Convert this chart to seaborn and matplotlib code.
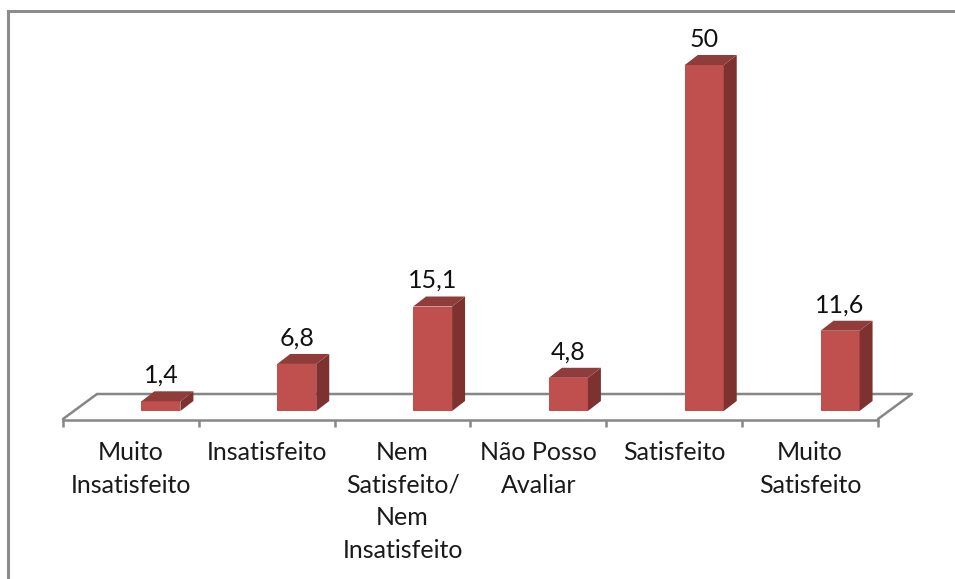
import pandas as pd
import seaborn as sns
import matplotlib.pyplot as plt
from matplotlib.patches import Polygon

categories = ['Muito\nInsatisfeito', 'Insatisfeito', 'Nem\nSatisfeito/\nNem\nInsatisfeito',
              'Não Posso\nAvaliar', 'Satisfeito', 'Muito\nSatisfeito']
values = [1.4, 6.8, 15.1, 4.8, 50, 11.6]
value_labels = ['1,4', '6,8', '15,1', '4,8', '50', '11,6']

W, H = 955, 579
FRONT = '#C0504D'
SIDE = '#7D3230'
TOP = '#8F3C3A'
GRAY = '#868686'

sns.set_theme(style='white')
plt.rcParams['font.family'] = ['Lato', 'DejaVu Sans']


def axes_px(fig, left, top, right, bottom):
    # axes box given in image pixels, y counted from the top
    return fig.add_axes([left / W, 1 - bottom / H, (right - left) / W, (bottom - top) / H])


fig = plt.figure(figsize=(W / 100, H / 100), dpi=100)

# frame and floor of the chart, in pixel coordinates
bg = axes_px(fig, 0, 0, W, H)
bg.set_xlim(0, W)
bg.set_ylim(H, 0)
bg.axis('off')
bg.plot([8, 8, W], [H, 11, 11], color='#8C8C8C', lw=2.2, solid_joinstyle='miter')
bg.plot([63, 97, 912, 878], [419, 394, 394, 419], color=GRAY, lw=1.8)

# category axis: ticks between the categories, labels centred on the slots
ax_cat = axes_px(fig, 63, 300, 878, 419.5)
ax_cat.patch.set_alpha(0)
ax_cat.set_xlim(-0.5, 5.5)
ax_cat.set_yticks([])
sns.despine(ax=ax_cat, left=True)
ax_cat.spines['bottom'].set_color(GRAY)
ax_cat.spines['bottom'].set_linewidth(1.8)
ax_cat.set_xticks([i - 0.5 for i in range(7)])
ax_cat.set_xticklabels([])
ax_cat.tick_params(axis='x', which='major', bottom=True, length=5, width=1.8, color=GRAY)
ax_cat.set_xticks(range(6), minor=True)
ax_cat.set_xticklabels(categories, minor=True, fontsize=18, color='#1a1a1a', linespacing=1.5)
ax_cat.tick_params(axis='x', which='minor', bottom=False, length=0, pad=15.5)

# bars sit 30 px to the right of their slots, as in the perspective of the original
ax = axes_px(fig, 93, 65, 908, 411)
ax.patch.set_alpha(0)
df = pd.DataFrame({'categoria': categories, 'valor': values})
sns.barplot(data=df, x='categoria', y='valor', color=FRONT, saturation=1, width=0.287,
            linewidth=0, edgecolor='none', ax=ax, zorder=3)
ax.set_xlim(-0.5, 5.5)
ax.set_ylim(0, 50)
ax.axis('off')

# side and top faces for the 3D look
dx = 13 / (815 / 6)
dy = 10 / (346 / 50)
for bar, label in zip(ax.patches, value_labels):
    x0, w, h = bar.get_x(), bar.get_width(), bar.get_height()
    x1 = x0 + w
    ax.add_patch(Polygon([(x1, 0), (x1 + dx, dy), (x1 + dx, h + dy), (x1, h)],
                         facecolor=SIDE, edgecolor='none', clip_on=False, zorder=3))
    ax.add_patch(Polygon([(x0, h), (x0 + dx, h + dy), (x1 + dx, h + dy), (x1, h)],
                         facecolor=TOP, edgecolor='none', clip_on=False, zorder=3))
    ax.annotate(label, xy=(x0 + w / 2, h), xytext=(0, 18.7), textcoords='offset points',
                ha='center', va='center', fontsize=18, color='#111111', annotation_clip=False)

fig.savefig('out.png', dpi=100)
